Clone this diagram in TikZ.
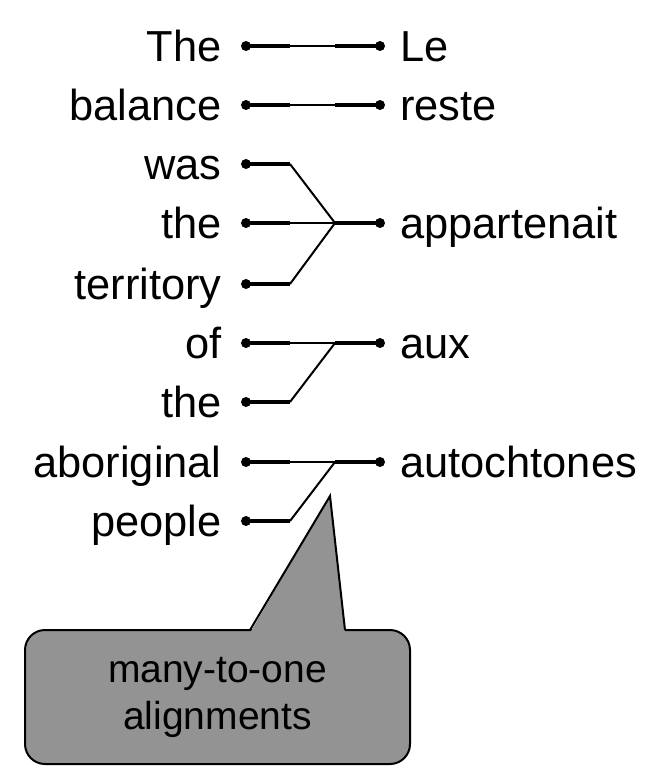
\documentclass[tikz,border=0pt]{standalone}
\usepackage{fontspec}
\setmainfont{Liberation Sans}
\usetikzlibrary{calc}
\definecolor{NoteGray}{HTML}{939393}
\tikzset{
  word/.style={font=\fontsize{21.7}{26}\selectfont,inner sep=0pt},
  dot/.style={circle,fill=black,inner sep=0pt,minimum size=5pt},
  stub/.style={line width=2pt},
  link/.style={line width=1pt},
  weak/.style={line width=0.8pt},
  note/.style={draw=black,line width=1pt,fill=NoteGray,rounded corners=10pt,align=center,
    font=\fontsize{19.5}{23.5}\selectfont,minimum width=192.5pt,minimum height=67pt}
}

\begin{document}
\begin{tikzpicture}[x=0.5pt,y=-0.5pt]
  \useasboundingbox (0,0) rectangle (660,781);
  % English side
  \foreach \w/\y [count=\i] in {The/46,balance/105,was/164,the/223,territory/284,of/343,the/402,aboriginal/462,people/521}{
    \node[word,anchor=base east] (e\i) at (222,\y+15.5) {\w};
    \node[dot] (ed\i) at (246,\y) {};
    \coordinate (es\i) at (290,\y);
    \draw[stub] (ed\i.center) -- (es\i);
  }
  % French side
  \foreach \w/\y [count=\i] in {Le/46,reste/105,appartenait/223,aux/343,autochtones/462}{
    \node[word,anchor=base west] (f\i) at (400,\y+15.5) {\w};
    \node[dot] (fd\i) at (380,\y) {};
    \coordinate (fs\i) at (335,\y);
    \draw[stub] (fs\i) -- (fd\i.center);
  }
  \draw[weak] (es1) -- (fs1);
  \draw[weak] (es2) -- (fs2);
  \draw[link] (es3) -- (fs3);
  \draw[weak] (es4) -- (fs3);
  \draw[link] (es5) -- (fs3);
  \draw[weak] (es6) -- (fs4);
  \draw[link] (es7) -- (fs4);
  \draw[weak] (es8) -- (fs5);
  \draw[link] (es9) -- (fs5);
  % callout
  \node[note] (box) at (217.5,697) {many-to-one\\alignments};
  \coordinate (tip) at (330,496);
  \fill[NoteGray] (250,633) -- (tip) -- (345,633) -- cycle;
  \draw[line width=1pt] (250,630) -- (tip) -- (345,630);
\end{tikzpicture}
\end{document}
